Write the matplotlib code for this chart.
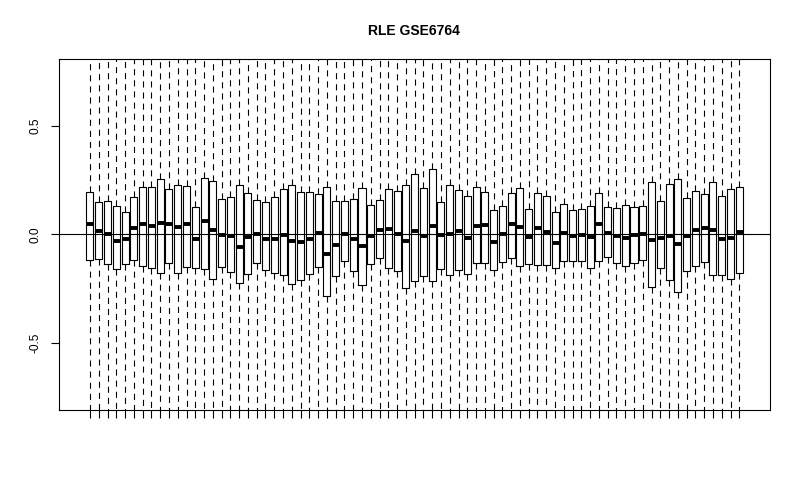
import matplotlib

matplotlib.use("Agg")
import matplotlib.pyplot as plt

plt.rcParams["font.family"] = ["Liberation Sans", "DejaVu Sans"]

TITLE = "RLE GSE6764"

# per-array RLE summaries (75 arrays)
medians = [
    0.048, 0.015, 0.002, -0.031, -0.022, 0.028, 0.048, 0.038, 0.052, 0.048,
    0.034, 0.048, -0.023, 0.060, 0.018, -0.005, -0.008, -0.060, -0.014, 0.000,
    -0.023, -0.023, -0.005, -0.031, -0.035, -0.023, 0.006, -0.092, -0.051, 0.000,
    -0.023, -0.055, -0.008, 0.018, 0.023, 0.000, -0.032, 0.014, -0.008, 0.037,
    -0.005, 0.002, 0.014, -0.018, 0.037, 0.041, -0.035, 0.002, 0.046, 0.032,
    -0.014, 0.028, 0.009, -0.041, 0.006, -0.008, -0.005, -0.014, 0.046, 0.006,
    -0.008, -0.018, -0.005, 0.002, -0.028, -0.018, -0.008, -0.046, -0.009, 0.018,
    0.028, 0.018, -0.023, -0.018, 0.009,
]
q1 = [
    -0.118, -0.114, -0.138, -0.160, -0.137, -0.118, -0.147, -0.157, -0.180, -0.132,
    -0.180, -0.152, -0.157, -0.161, -0.207, -0.149, -0.175, -0.226, -0.184, -0.134,
    -0.166, -0.180, -0.189, -0.230, -0.212, -0.184, -0.152, -0.284, -0.194, -0.124,
    -0.170, -0.235, -0.138, -0.111, -0.157, -0.170, -0.249, -0.217, -0.194, -0.215,
    -0.161, -0.189, -0.166, -0.184, -0.134, -0.134, -0.166, -0.129, -0.111, -0.147,
    -0.138, -0.143, -0.143, -0.157, -0.124, -0.124, -0.124, -0.157, -0.124, -0.106,
    -0.134, -0.147, -0.134, -0.120, -0.244, -0.157, -0.212, -0.267, -0.170, -0.147,
    -0.129, -0.189, -0.189, -0.207, -0.180,
]
q3 = [
    0.197, 0.147, 0.152, 0.129, 0.101, 0.171, 0.217, 0.217, 0.253, 0.207,
    0.226, 0.221, 0.124, 0.258, 0.244, 0.161, 0.171, 0.226, 0.189, 0.157,
    0.147, 0.171, 0.207, 0.226, 0.194, 0.194, 0.184, 0.217, 0.152, 0.152,
    0.161, 0.212, 0.134, 0.157, 0.207, 0.198, 0.226, 0.276, 0.212, 0.300,
    0.147, 0.226, 0.203, 0.175, 0.217, 0.194, 0.111, 0.129, 0.189, 0.212,
    0.115, 0.189, 0.175, 0.101, 0.138, 0.111, 0.115, 0.129, 0.189, 0.124,
    0.120, 0.134, 0.124, 0.129, 0.240, 0.152, 0.230, 0.253, 0.166, 0.198,
    0.184, 0.240, 0.175, 0.207, 0.217,
]
# whisker ends fall outside the visible range for every array
WHISKER_LOW = -1.5
WHISKER_HIGH = 1.5

stats = [
    {"med": m, "q1": lo, "q3": hi, "whislo": WHISKER_LOW, "whishi": WHISKER_HIGH}
    for m, lo, hi in zip(medians, q1, q3)
]
n = len(stats)

fig = plt.figure(figsize=(8.0, 4.84), dpi=100)
ax = fig.add_axes([0.0741, 0.1529, 0.8884, 0.7246])

ax.bxp(
    stats,
    positions=range(1, n + 1),
    widths=0.8,
    showfliers=False,
    showcaps=False,
    boxprops=dict(color="black", linewidth=0.8),
    whiskerprops=dict(color="black", linewidth=0.8, dashes=(5.5, 4.5)),
    medianprops=dict(color="black", linewidth=2.8, solid_capstyle="butt"),
)
ax.axhline(0, color="black", linewidth=0.8)

ax.set_xlim(-2.5, n + 3.5)
ax.set_ylim(-0.81, 0.807)
ax.set_xticks(range(1, n + 1))
ax.set_xticklabels([])
ax.set_yticks([-0.5, 0.0, 0.5])
ax.set_yticklabels(["-0.5", "0.0", "0.5"], rotation=90, va="center")
ax.tick_params(axis="both", length=5.5, width=0.8, labelsize=8.6, pad=7)
for s in ax.spines.values():
    s.set_linewidth(0.8)

fig.text(0.518, 0.936, TITLE, ha="center", va="center", fontsize=10, fontweight="bold")

fig.savefig("out.png", dpi=100)
